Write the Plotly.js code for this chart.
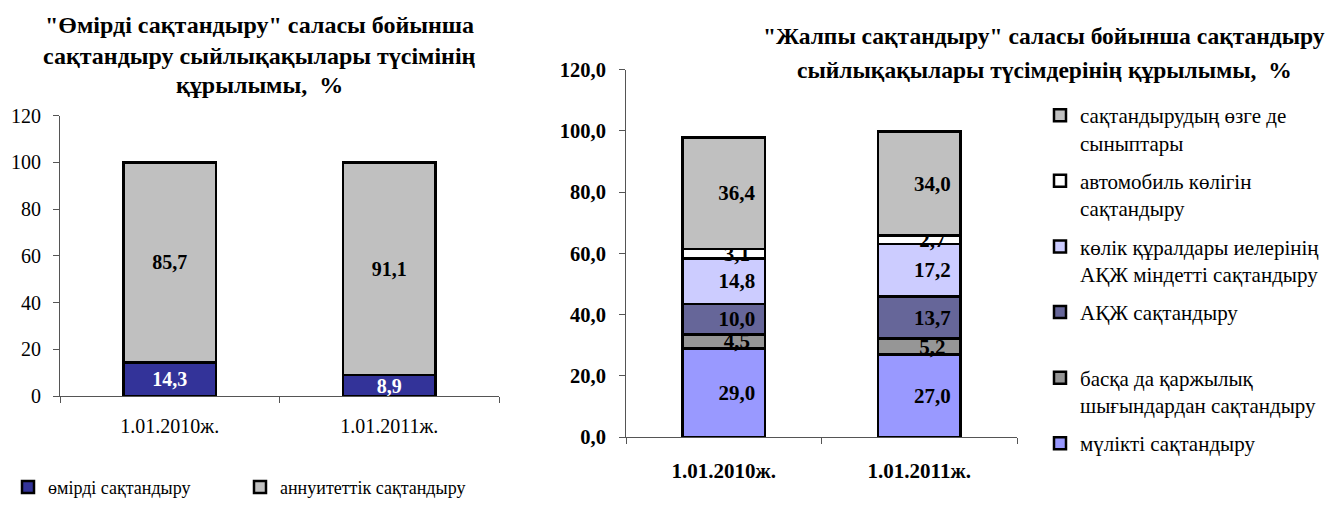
<!DOCTYPE html>
<html>
<head>
<meta charset="utf-8">
<script src="https://cdn.plot.ly/plotly-3.0.1.min.js"></script>
<style>html,body{margin:0;padding:0;background:#fff}#chart{width:1330px;height:506px}</style>
</head>
<body>
<div id="chart"></div>
<script>
// ---- Data ----
const categories = ['1.01.2010ж.', '1.01.2011ж.'];

// Left chart: "Өмірді сақтандыру"
const lifeNames = ['өмірді сақтандыру', 'аннуитеттік сақтандыру'];
const lifeInsurance = [14.3, 8.9];
const annuityInsurance = [85.7, 91.1];

// Right chart: "Жалпы сақтандыру" (bottom to top)
const generalNames = [
  'мүлікті сақтандыру',
  'басқа да қаржылық<br>шығындардан сақтандыру',
  'АҚЖ сақтандыру',
  'көлік құралдары иелерінің<br>АҚЖ міндетті сақтандыру',
  'автомобиль көлігін<br>сақтандыру',
  'сақтандырудың өзге де<br>сыныптары'
];
const propertyIns = [29.0, 27.0];
const financialLossIns = [4.5, 5.2];
const liabilityIns = [10.0, 13.7];
const motorOwnersLiability = [14.8, 17.2];
const autoTransportIns = [3.1, 2.7];
const otherClasses = [36.4, 34.0];

const leftTitleLines = ['"Өмірді сақтандыру" саласы бойынша', 'сақтандыру сыйлықақылары түсімінің', 'құрылымы,  %'];
const rightTitleLines = ['"Жалпы сақтандыру" саласы бойынша сақтандыру', 'сыйлықақылары түсімдерінің құрылымы,  %'];

// ---- Styles ----
const FONT = 'Liberation Serif';
const edge = {color: '#000', width: 2.5};
const leftColors = ['#333399', '#C0C0C0'];
const rightColors = ['#9999FF', '#969696', '#666699', '#CCCCFF', '#FFFFFF', '#C0C0C0'];
const rightSeries = [propertyIns, financialLossIns, liabilityIns, motorOwnersLiability, autoTransportIns, otherClasses];
const pad2 = s => s.indexOf('<br>') >= 0 ? s : s + '<br>\u00a0';

const traces = [];
[lifeInsurance, annuityInsurance].forEach((vals, i) => {
  traces.push({
    type: 'bar', x: categories, y: vals, name: lifeNames[i],
    xaxis: 'x', yaxis: 'y', legend: 'legend',
    marker: {color: leftColors[i], line: edge},
    texttemplate: '%{y:.1f}', textposition: 'inside', insidetextanchor: 'middle',
    constraintext: 'none', textangle: 0,
    textfont: {family: FONT, size: 20, weight: 'bold', color: i === 0 ? '#fff' : '#000'},
    hoverinfo: 'skip'
  });
});
rightSeries.forEach((vals, i) => {
  traces.push({
    type: 'bar', x: categories, y: vals, name: pad2(generalNames[i]),
    xaxis: 'x2', yaxis: 'y2', legend: 'legend2', legendgroup: 'g' + i, legendrank: 100 - i,
    marker: {color: rightColors[i], line: edge},
    texttemplate: '\u00a0\u00a0\u00a0\u00a0\u00a0%{y:.1f}', textposition: 'inside', insidetextanchor: 'middle',
    constraintext: 'none', textangle: 0,
    textfont: {family: FONT, size: 21, weight: 'bold', color: '#000'},
    hoverinfo: 'skip'
  });
});

const W = 1330, H = 506;
const px = v => v / W, py = v => (H - v) / H;

const axisCommon = {
  showline: true, linecolor: '#555', linewidth: 1, ticks: 'outside', tickcolor: '#555',
  ticklen: 6, showgrid: false, zeroline: false, automargin: false, fixedrange: true
};

const annotations = [];
[26, 57, 87].forEach((yy, i) => annotations.push({
  xref: 'paper', yref: 'paper', x: px(259), y: py(yy), xanchor: 'center', yanchor: 'middle',
  text: leftTitleLines[i], showarrow: false,
  font: {family: FONT, size: 24, weight: 'bold', color: '#000'}
}));
[37, 71].forEach((yy, i) => annotations.push({
  xref: 'paper', yref: 'paper', x: px(1044), y: py(yy), xanchor: 'center', yanchor: 'middle',
  text: rightTitleLines[i], showarrow: false,
  font: {family: FONT, size: 23.5, weight: 'bold', color: '#000'}
}));

const layout = {
  width: W, height: H,
  margin: {l: 0, r: 0, t: 0, b: 0},
  paper_bgcolor: '#fff', plot_bgcolor: 'rgba(0,0,0,0)',
  barmode: 'stack', bargap: 0.58,
  separators: ', ',
  font: {family: FONT, color: '#000'},
  xaxis: Object.assign({}, axisCommon, {
    domain: [px(60), px(499)], anchor: 'y', type: 'category', tickson: 'boundaries',
    tickfont: {family: FONT, size: 20, color: '#000'}, ticklabelstandoff: 12
  }),
  yaxis: Object.assign({}, axisCommon, {
    domain: [py(404), py(118)], anchor: 'x', range: [0, 120], dtick: 20, tick0: 0,
    tickfont: {family: FONT, size: 20, color: '#000'}, ticklabelstandoff: 8
  }),
  xaxis2: Object.assign({}, axisCommon, {
    domain: [px(626), px(1017)], anchor: 'y2', type: 'category', tickson: 'boundaries',
    tickfont: {family: FONT, size: 21, weight: 'bold', color: '#000'}, ticklabelstandoff: 15
  }),
  yaxis2: Object.assign({}, axisCommon, {
    domain: [py(446), py(71)], anchor: 'x2', range: [0, 120], dtick: 20, tick0: 0,
    tickformat: '.1f',
    tickfont: {family: FONT, size: 20.5, weight: 'bold', color: '#000'}, ticklabelstandoff: 9
  }),
  showlegend: true,
  legend: {
    orientation: 'h', x: px(8), xanchor: 'left', y: py(497), yanchor: 'middle',
    traceorder: 'normal', entrywidth: 187, entrywidthmode: 'pixels',
    font: {family: FONT, size: 18, color: '#000'}, bgcolor: 'rgba(0,0,0,0)', itemclick: false, itemdoubleclick: false
  },
  legend2: {
    orientation: 'v', x: px(1040), xanchor: 'left', y: py(97), yanchor: 'top',
    traceorder: 'grouped', tracegroupgap: 8, valign: 'top',
    font: {family: FONT, size: 21, color: '#000'}, bgcolor: 'rgba(0,0,0,0)', itemclick: false, itemdoubleclick: false
  },
  annotations: annotations
};

Plotly.newPlot('chart', traces, layout, {staticPlot: true, displayModeBar: false});
</script>
</body>
</html>
